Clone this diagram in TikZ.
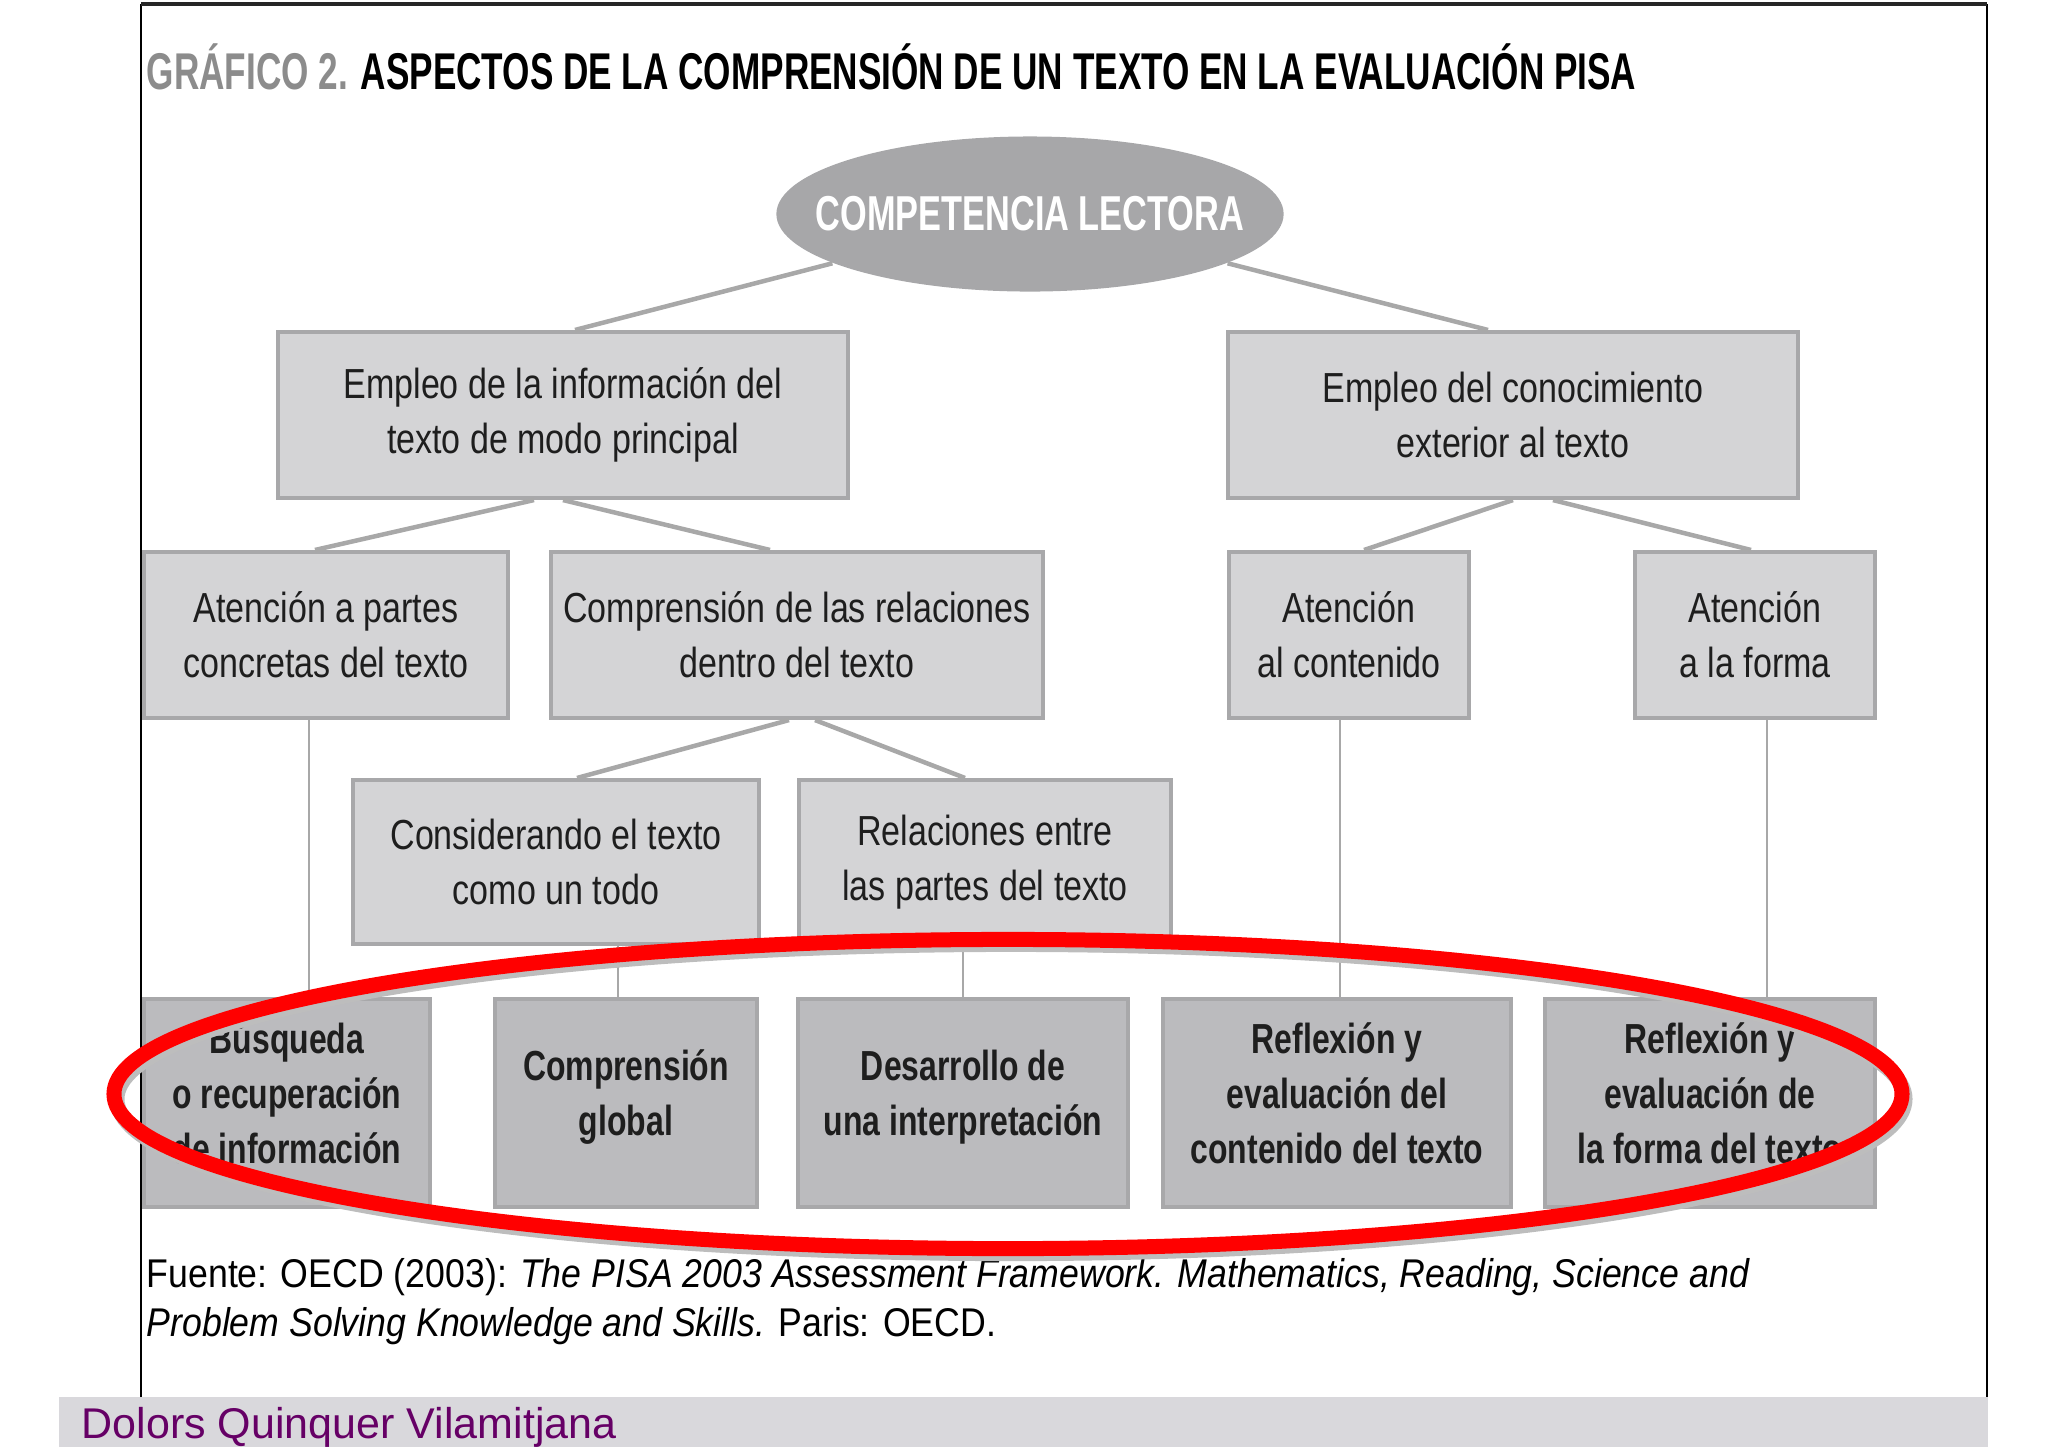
\documentclass[tikz,border=0pt]{standalone}
\usepackage{fontspec}
\setmainfont{Liberation Sans}
\newfontfamily\condfont[FakeStretch=0.81]{Liberation Sans}
\newfontfamily\condboldfont[FakeStretch=0.76]{Liberation Sans}
\newfontfamily\titlefont[FakeStretch=0.68]{Liberation Sans}
\newfontfamily\ovalfont[FakeStretch=0.70]{Liberation Sans}
\newfontfamily\notefont[FakeStretch=0.89]{Liberation Sans}
\usetikzlibrary{shapes.geometric}
\definecolor{boxfill}{HTML}{D4D4D6}
\definecolor{keyfill}{HTML}{BBBBBE}
\definecolor{boxline}{HTML}{A8A8AA}
\definecolor{ovalfill}{HTML}{A7A7A9}
\definecolor{linkgray}{HTML}{A8A8A8}
\definecolor{textdark}{HTML}{1E1E1E}
\definecolor{titlegray}{HTML}{8C8C8C}
\definecolor{bandgray}{HTML}{D9D8DC}
\definecolor{autorpurple}{HTML}{660066}
\definecolor{shadowgray}{HTML}{BDBDBD}

\begin{document}
\begin{tikzpicture}[x=0.01cm,y=-0.01cm,
  caja/.style={rectangle,draw=boxline,fill=boxfill,line width=0.04cm,inner sep=0pt,
    align=center,text=textdark,font=\condfont\fontsize{11.95}{15.65}\selectfont},
  cajaclave/.style={caja,fill=keyfill,minimum height=2.08cm,text depth=0.2cm,
    font=\condboldfont\bfseries\fontsize{11.95}{15.65}\selectfont},
  ovalo/.style={ellipse,fill=ovalfill,inner sep=0pt,minimum width=5.07cm,minimum height=1.55cm,
    text=white,font=\ovalfont\bfseries\fontsize{13.94}{16}\selectfont},
  nota/.style={anchor=base west,inner sep=0pt,text=black,font=\notefont\fontsize{11.4}{14}\selectfont},
  enlace/.style={draw=linkgray,line width=0.045cm},
  vertical/.style={draw=linkgray,line width=0.025cm}]
\useasboundingbox (0,0) rectangle (2048,1447);
\fill [bandgray] (59,1397) rectangle (1988,1447);
\draw [line width=0.02cm] (141,1397) -- (141,4);
\draw [line width=0.02cm] (1987,4) -- (1987,1397);
\draw [line width=0.035cm,black!85] (141,4) -- (1987,4);

\node (titulo) at (146,89) [anchor=base west,inner sep=0pt,font=\titlefont\bfseries\fontsize{14.7}{17}\selectfont]
  {\textcolor{titlegray}{GRÁFICO 2.} ASPECTOS DE LA COMPRENSIÓN DE UN TEXTO EN LA EVALUACIÓN PISA};

\node (comp) at (1030,214) [ovalo] {\makebox[0pt]{COMPETENCIA LECTORA}};
\node (empA) at (563,415) [caja,minimum width=5.70cm,minimum height=1.66cm] {Empleo de la información del\\texto de modo principal};
\node (empB) at (1513,415) [caja,minimum width=5.69cm,minimum height=1.66cm] {Empleo del conocimiento\\exterior al texto};
\node (atenPartes) at (326,635) [caja,minimum width=3.64cm,minimum height=1.66cm] {Atención a partes\\concretas del texto};
\node (comprRel) at (797,635) [caja,minimum width=4.92cm,minimum height=1.66cm] {Comprensión de las relaciones\\dentro del texto};
\node (atenCont) at (1349,635) [caja,minimum width=2.40cm,minimum height=1.66cm] {Atención\\al contenido};
\node (atenForma) at (1755,635) [caja,minimum width=2.39cm,minimum height=1.66cm] {Atención\\a la forma};
\node (consTodo) at (556,862) [caja,minimum width=4.06cm,minimum height=1.64cm] {Considerando el texto\\como un todo};
\node (relPartes) at (985,862) [caja,minimum width=3.71cm,minimum height=1.64cm] {Relaciones entre\\las partes del texto};
\node (busqueda) at (287,1103) [cajaclave,minimum width=2.86cm] {Búsqueda\\o recuperación\\de información};
\node (global) at (626,1103) [cajaclave,minimum width=2.61cm] {Comprensión\\global};
\node (desarrollo) at (963,1103) [cajaclave,minimum width=3.30cm] {Desarrollo de\\una interpretación};
\node (reflCont) at (1337,1103) [cajaclave,minimum width=3.47cm] {Reflexión y\\evaluación del\\contenido del texto};
\node (reflForma) at (1710,1103) [cajaclave,minimum width=3.29cm] {Reflexión y\\evaluación de\\la forma del texto};

\draw [enlace] (comp.194) to ([xshift=0.12cm]empA.north);
\draw [enlace] (comp.346) to ([xshift=-0.25cm]empB.north);
\draw [enlace] ([xshift=-0.29cm]empA.south) to ([xshift=-0.11cm]atenPartes.north);
\draw [enlace] (empA.south) to ([xshift=-0.27cm]comprRel.north);
\draw [enlace] (empB.south) to ([xshift=0.15cm]atenCont.north);
\draw [enlace] ([xshift=0.40cm]empB.south) to ([xshift=-0.04cm]atenForma.north);
\draw [enlace] ([xshift=-0.08cm]comprRel.south) to ([xshift=0.21cm]consTodo.north);
\draw [enlace] ([xshift=0.18cm]comprRel.south) to ([xshift=-0.20cm]relPartes.north);
\draw [vertical] ([xshift=0.22cm]busqueda.north |- atenPartes.south) to ([xshift=0.22cm]busqueda.north);
\draw [vertical] ([xshift=-0.08cm]global.north |- consTodo.south) to ([xshift=-0.08cm]global.north);
\draw [vertical] (desarrollo.north |- relPartes.south) to (desarrollo.north);
\draw [vertical] ([xshift=0.03cm]reflCont.north |- atenCont.south) to ([xshift=0.03cm]reflCont.north);
\draw [vertical] ([xshift=0.57cm]reflForma.north |- atenForma.south) to ([xshift=0.57cm]reflForma.north);

\node (fuente1) at (146,1287) [nota] {Fuente: OECD (2003): \textit{The PISA 2003 Assessment Framework. Mathematics, Reading, Science and}};
\node (fuente2) at (146,1336) [nota] {\textit{Problem Solving Knowledge and Skills.} Paris: OECD.};
\node (autora) at (81,1438) [anchor=base west,inner sep=0pt,text=autorpurple,font=\fontsize{12.23}{14}\selectfont] {Dolors Quinquer Vilamitjana};

\draw [shadowgray,line width=0.15cm] (1011,1099) ellipse [x radius=8.935cm,y radius=1.545cm];
\draw [red,line width=0.15cm] (1008,1094) ellipse [x radius=8.935cm,y radius=1.545cm];
\end{tikzpicture}
\end{document}
